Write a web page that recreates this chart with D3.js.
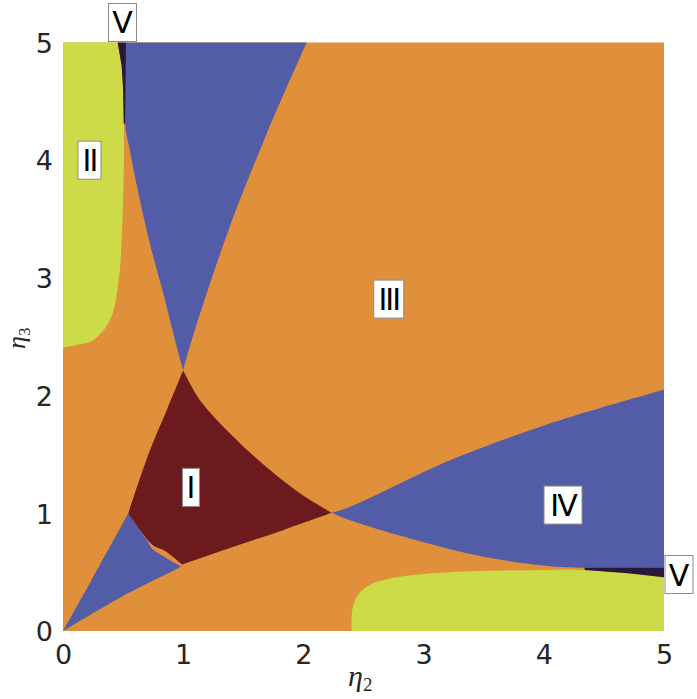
<!DOCTYPE html>
<html>
<head>
<meta charset="utf-8">
<script src="https://cdn.jsdelivr.net/npm/d3@7"></script>
<style>
    body { margin: 0; background: #ffffff; }
    .tickText { font-family: "DejaVu Sans", sans-serif; font-size: 27px; fill: #262626; }
    .axisLabel { font-family: "Liberation Serif", serif; font-style: italic; fill: #262626; }
    .regionText { font-family: "DejaVu Sans", sans-serif; font-size: 30px; fill: #000000; }
</style>
</head>
<body>
<div id="chart"></div>
<script>

//- Tick values
const xTickValues = [0, 1, 2, 3, 4, 5];
const yTickValues = [0, 1, 2, 3, 4, 5];

//- Region boundaries (eta2, eta3)
const topWedgeLeftEdge = [[0.524, 5.0], [0.516, 4.32], [0.557, 4.08], [0.64, 3.66], [0.738, 3.23],
    [0.834, 2.87], [0.90, 2.60], [0.95, 2.40], [1.0, 2.215]];
const topWedgeRightEdge = [[2.027, 5.0], [1.695, 4.225], [1.417, 3.517], [1.195, 2.867], [1.05, 2.40], [1.0, 2.215]];

const regionOneUpperEdge = [[1.0, 2.215], [1.14, 1.96], [1.417, 1.65], [1.69, 1.395], [1.97, 1.17], [2.235, 1.004]];
const regionOneLowerEdge = [[2.235, 1.004], [1.83, 0.857], [1.417, 0.716], [0.99, 0.565]];
const regionOneBubbleEdge = [[0.99, 0.565], [0.85, 0.68], [0.76, 0.72], [0.70, 0.78], [0.543, 1.0]];
const regionOneLeftEdge = [[0.543, 1.0], [0.724, 1.537], [0.863, 1.876], [1.0, 2.215]];

const cornerWedgeLeftEdge = [[0, 0], [0.238, 0.433], [0.543, 1.0]];
const cornerWedgeBubbleEdge = [[0.543, 1.0], [0.70, 0.77], [0.74, 0.70], [0.86, 0.62], [0.985, 0.545]];
const cornerWedgeLowerEdge = [[0.985, 0.545], [0.488, 0.291], [0, 0]];

const rightWedgeUpperEdge = [[2.235, 1.004], [2.39, 1.055], [3.22, 1.45], [4.05, 1.763], [5.0, 2.05]];
const rightWedgeLowerEdge = [[5.0, 0.537], [4.34, 0.537], [4.05, 0.55], [3.50, 0.63], [2.94, 0.77], [2.39, 0.94], [2.235, 1.004]];

const leftLobeEdge = [[0.455, 5.0], [0.488, 4.8], [0.50, 4.6], [0.507, 4.28], [0.50, 3.66],
    [0.46, 2.95], [0.39, 2.64], [0.25, 2.47], [0.11, 2.43], [0, 2.41]];
const bottomLobeEdge = [[2.40, 0], [2.41, 0.2], [2.45, 0.30], [2.55, 0.39], [2.80, 0.46], [3.22, 0.50],
    [3.8, 0.515], [4.34, 0.518], [4.7, 0.49], [5.0, 0.456]];

const topStripEdge = [[0.455, 5.0], [0.524, 5.0], [0.516, 4.31], [0.505, 4.31], [0.50, 4.6], [0.488, 4.8], [0.455, 5.0]];
const rightStripEdge = [[4.34, 0.537], [5.0, 0.537], [5.0, 0.456], [4.7, 0.49], [4.34, 0.518], [4.34, 0.537]];

//- Region labels and their anchor (eta2, eta3)
const regionNames = ["I", "II", "III", "IV", "V", "V"];
const regionAnchors = [[1.065, 1.22], [0.22, 4.0], [2.71, 2.82], [4.16, 1.07], [0.495, 5.17], [5.125, 0.48]];


const COLORS = {
    orange: "#e0903a",
    blue: "#535ca6",
    darkRed: "#6c1a1e",
    yellow: "#cddb48",
    dark: "#2a173a"
};

const svgWidth = 697;
const svgHeight = 699;

let svg = d3.select("#chart").append("svg")
    .attr("width", svgWidth)
    .attr("height", svgHeight);

let xScale = d3.scaleLinear().domain([0, 5]).range([63, 664]);
let yScale = d3.scaleLinear().domain([0, 5]).range([631, 42.5]);

let smoothLine = d3.line()
    .x(d => xScale(d[0]))
    .y(d => yScale(d[1]))
    .curve(d3.curveCatmullRom.alpha(0.5));

let straightLine = d3.line()
    .x(d => xScale(d[0]))
    .y(d => yScale(d[1]));

function shapeFromEdges(edges, smooth = true) {
    /* Joins several boundary edges (each smoothed on its own) into one closed path */
    let gen = smooth ? smoothLine : straightLine;
    return edges.map((e, i) => {
        let s = gen(e);
        return i == 0 ? s : s.replace(/^M/, "L");
    }).join("") + "Z";
}

//-- Background (region III)
svg.append("rect")
    .attr("x", xScale(0))
    .attr("y", yScale(5))
    .attr("width", xScale(5) - xScale(0))
    .attr("height", yScale(0) - yScale(5))
    .attr("fill", COLORS.orange);

let regionGroup = svg.append("g");

//- Blue wedges
regionGroup.append("path")
    .attr("d", shapeFromEdges([topWedgeLeftEdge, topWedgeRightEdge.slice().reverse()]))
    .attr("fill", COLORS.blue);

regionGroup.append("path")
    .attr("d", shapeFromEdges([rightWedgeUpperEdge, rightWedgeLowerEdge]))
    .attr("fill", COLORS.blue);

regionGroup.append("path")
    .attr("d", shapeFromEdges([cornerWedgeLeftEdge, cornerWedgeBubbleEdge, cornerWedgeLowerEdge]))
    .attr("fill", COLORS.blue);

//- Region I
regionGroup.append("path")
    .attr("d", shapeFromEdges([regionOneUpperEdge, regionOneLowerEdge, regionOneBubbleEdge, regionOneLeftEdge]))
    .attr("fill", COLORS.darkRed);

//- Region II lobes (closed along the plot border)
regionGroup.append("path")
    .attr("d", shapeFromEdges([[[0, 5.0], [0.455, 5.0]], leftLobeEdge]))
    .attr("fill", COLORS.yellow);

regionGroup.append("path")
    .attr("d", shapeFromEdges([bottomLobeEdge, [[5.0, 0.456], [5.0, 0]]]))
    .attr("fill", COLORS.yellow);

//- Region V strips
regionGroup.append("path")
    .attr("d", shapeFromEdges([topStripEdge], false))
    .attr("fill", COLORS.dark);

regionGroup.append("path")
    .attr("d", shapeFromEdges([rightStripEdge], false))
    .attr("fill", COLORS.dark);


//-- Axes
let xAxis = d3.axisBottom(xScale).tickValues(xTickValues).tickFormat(d3.format("d")).tickSize(0).tickPadding(14);
let yAxis = d3.axisLeft(yScale).tickValues(yTickValues).tickFormat(d3.format("d")).tickSize(0).tickPadding(10);

let xAxisGroup = svg.append("g")
    .attr("transform", `translate(0, ${yScale(0)})`)
    .call(xAxis);

let yAxisGroup = svg.append("g")
    .attr("transform", `translate(${xScale(0)}, 0)`)
    .call(yAxis);

[xAxisGroup, yAxisGroup].forEach(g => {
    g.select(".domain").remove();
    g.selectAll("text").attr("class", "tickText").attr("font-size", null).attr("font-family", null);
});
xAxisGroup.selectAll("text").attr("dy", "0.71em");
yAxisGroup.selectAll("text").attr("dy", "0.36em");


//-- Axis labels
let xLabel = svg.append("text")
    .attr("class", "axisLabel")
    .attr("x", 348)
    .attr("y", 686);
xLabel.append("tspan").attr("font-size", "30px").text("η");
xLabel.append("tspan").attr("font-size", "19px").attr("font-style", "normal").attr("dy", "5").text("2");

//  Rotated label sits close to the left edge, as in the original
let yLabel = svg.append("text")
    .attr("class", "axisLabel")
    .attr("transform", "translate(25, 349) rotate(-90)");
yLabel.append("tspan").attr("font-size", "26px").text("η");
yLabel.append("tspan").attr("font-size", "17px").attr("font-style", "normal").attr("dy", "5").text("3");


//-- Region label boxes
const boxWidths = { "I": 17, "II": 23, "III": 30, "IV": 38, "V": 28 };
const boxHeight = 38;

let labelGroup = svg.append("g");

regionNames.forEach((name, i) => {
    let cx = xScale(regionAnchors[i][0]);
    let cy = yScale(regionAnchors[i][1]);
    let w = boxWidths[name];

    labelGroup.append("rect")
        .attr("x", cx - w / 2)
        .attr("y", cy - boxHeight / 2)
        .attr("width", w)
        .attr("height", boxHeight)
        .attr("fill", "#ffffff")
        .attr("stroke", "#8c8c8c")
        .attr("stroke-width", 1);

    labelGroup.append("text")
        .attr("class", "regionText")
        .attr("x", cx)
        .attr("y", cy + 11)
        .attr("text-anchor", "middle")
        .attr("letter-spacing", name.length > 1 ? "-2px" : null)
        .text(name);
});

</script>
</body>
</html>
